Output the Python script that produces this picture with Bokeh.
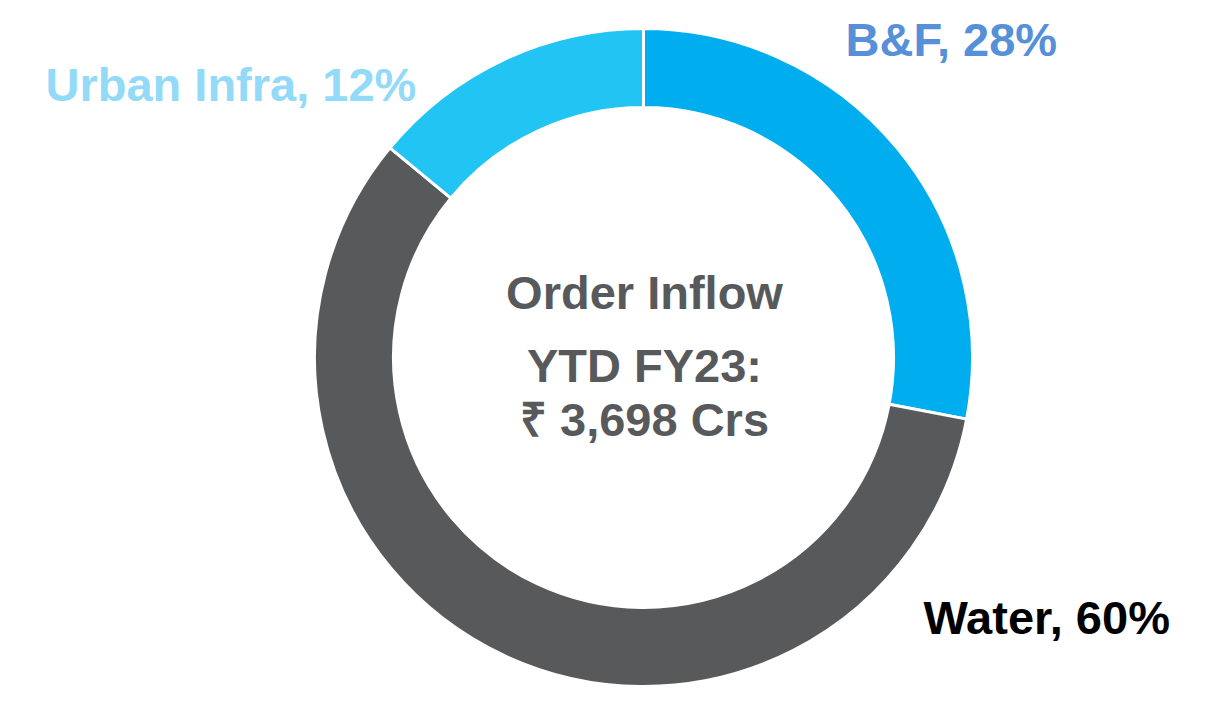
import math
from bokeh.plotting import figure
from bokeh.models import Range1d, ColumnDataSource
from bokeh.core.properties import value
from bokeh.embed import file_html
from bokeh.resources import INLINE

# ---- data ----
categories = ["B&F", "Water", "Urban Infra"]
shares = [28, 58, 14]  # arc sizes as drawn
label_texts = ["B&F, 28%", "Water, 60%", "Urban Infra, 12%"]
slice_colors = ["#00AEEF", "#58595B", "#22C4F3"]
label_colors = ["#5590D8", "#000000", "#92DAF8"]
center_lines = ["Order Inflow", "YTD FY23:", "\u20b9 3,698 Crs"]

# ---- layout ----
W, H = 1189, 698
CX, CY = 643, 357  # screen centre of donut
p = figure(width=W, height=H, output_backend="svg", toolbar_location=None,
           x_range=Range1d(-CX, W - CX), y_range=Range1d(CY - H, CY),
           min_border=0)
p.axis.visible = False
p.grid.visible = False
p.outline_line_color = None
p.background_fill_color = "white"
p.border_fill_color = "white"

total = sum(shares)
starts, ends = [], []
a = math.pi / 2
for s in shares:
    starts.append(a)
    a -= 2 * math.pi * s / total
    ends.append(a)

src = ColumnDataSource(dict(cat=categories, start=starts, end=ends, color=slice_colors))
p.annular_wedge(x=0, y=0, inner_radius=250, outer_radius=329, start_angle="start",
                end_angle="end", direction="clock", fill_color="color",
                line_color="white", line_width=3, source=src)

font = value("Liberation Sans")
TOFF = 18  # baseline correction
label_pos = [(845, 57), (923, 635), (45, 102)]
lsrc = ColumnDataSource(dict(
    x=[px - CX for px, py in label_pos],
    y=[CY - (py - TOFF) for px, py in label_pos],
    t=label_texts, c=label_colors))
p.text(x="x", y="y", text="t", text_color="c", source=lsrc, text_font=font,
       text_font_style="bold", text_font_size="47px", text_align="left",
       text_baseline="alphabetic")

center_baselines = [310, 383, 437]
csrc = ColumnDataSource(dict(x=[1, 1, 1], y=[CY - (b - TOFF) for b in center_baselines], t=center_lines))
p.text(x="x", y="y", text="t", source=csrc, text_font=font, text_color="#58595B",
       text_font_style="bold", text_font_size="47px", text_align="center",
       text_baseline="alphabetic")

open("out.html", "w").write(file_html(p, INLINE))
